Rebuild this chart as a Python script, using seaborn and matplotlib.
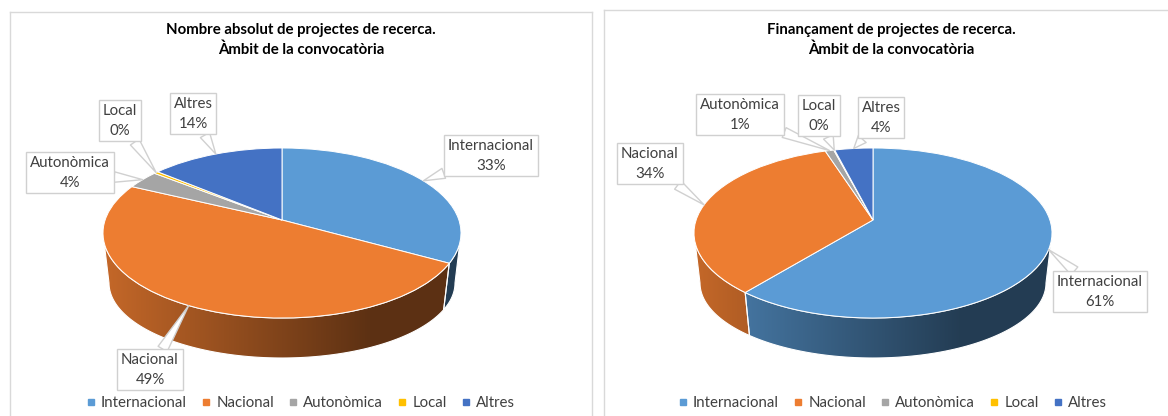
import numpy as np
import matplotlib
matplotlib.use("Agg")
import matplotlib.pyplot as plt
import seaborn as sns
from matplotlib.lines import Line2D
from matplotlib.patches import Polygon
from matplotlib.transforms import Transform

ambits = ["Internacional", "Nacional", "Autonòmica", "Local", "Altres"]
colors = ["#5B9BD5", "#ED7D31", "#A5A5A5", "#FFC000", "#4472C4"]

title_abs = "Nombre absolut de projectes de recerca.\nÀmbit de la convocatòria"
title_fin = "Finançament de projectes de recerca.\nÀmbit de la convocatòria"

# percentages (small slices estimated)
nombre_pct = [33, 49, 3.5, 0.45, 14]
finan_pct = [61, 34, 0.9, 0.1, 4]

W, H = 1168, 416
TILT = 0.153  # pie centre sits above the ellipse centre


def project(x, y):
    # perspective that keeps the unit circle but moves its centre upwards
    d = 1 + TILT * y
    return x * np.sqrt(1 - TILT**2) / d, (y + TILT) / d


class Tilted(Transform):
    input_dims = output_dims = 2

    def __init__(self, cx, cy, rx, ry):
        super().__init__()
        self.c = cx, cy, rx, ry

    def transform_non_affine(self, values):
        u, v = project(values[:, 0], values[:, 1])
        cx, cy, rx, ry = self.c
        return np.column_stack([cx + u * rx, cy - v * ry])


def edge_point(angle, c):
    # angle in degrees, clockwise from 12 o'clock
    a = np.radians(angle)
    return Tilted(*c).transform_non_affine(np.column_stack([np.sin(a), np.cos(a)]))


def draw_wall(ax, start, end, color, top, low):
    # side of the cylinder, only the front part of the ellipse can be seen
    hidden = np.degrees(np.arcsin(TILT))
    start, end = max(start, 90 + hidden), min(end, 270 - hidden)
    if end <= start:
        return
    ang = np.linspace(start, end, 120)
    pts = np.vstack([edge_point(ang, top), edge_point(ang[::-1], low)])
    shape = Polygon(pts, closed=True, fc="none", ec="white", lw=0.8, zorder=2)
    ax.add_patch(shape)
    cx, _, rx, _ = top
    xs = np.arange(cx - rx - 2, cx + rx + 3)
    shade = np.interp(xs, [cx - rx, cx + 0.5 * rx], [0.83, 0.39])
    rgb = np.array(matplotlib.colors.to_rgb(color))
    img = (shade[:, None] * rgb)[None, :, :]
    im = ax.imshow(img, extent=(xs[0], xs[-1], top[1] + top[3] + 60, top[1] - top[3]),
                   aspect="auto", zorder=1)
    im.set_clip_path(shape)


def draw_panel(ax, box, values, title, cx, label_pos, legend_x, title_x, title_y):
    x0, y0, x1, y1 = box
    top = (cx, 233, 179, 85)
    low = (cx, 283, 173, 75)

    wedges, _ = ax.pie(values, colors=colors, startangle=90, counterclock=False,
                       wedgeprops=dict(edgecolor="white", linewidth=0.7))
    for w in wedges:
        w.set_transform(Tilted(*top) + ax.transData)
        w.set_zorder(3)

    edges = np.concatenate([[0], np.cumsum(values)]) / np.sum(values) * 360
    for i, col in enumerate(colors):
        draw_wall(ax, edges[i], edges[i + 1], col, top, low)

    ax.set_aspect("auto")
    ax.set_xlim(x0, x1)
    ax.set_ylim(y1, y0)
    ax.set_frame_on(True)
    for s in ax.spines.values():
        s.set_color("#D9D9D9")
        s.set_linewidth(1)

    ax.text(title_x, title_y, title, ha="center", va="center", fontsize=10.8,
            fontweight="bold", color="black", linespacing=1.5)

    for i, name in enumerate(ambits):
        tip = edge_point((edges[i] + edges[i + 1]) / 2, top)[0]
        ax.annotate(f"{name}\n{values[i]:.0f}%", xy=tip, xytext=label_pos[i],
                    ha="center", va="center", fontsize=10.8, color="#404040",
                    linespacing=1.5, zorder=6, annotation_clip=False,
                    bbox=dict(boxstyle="square,pad=0.25", fc="white", ec="#D0D0D0", lw=1),
                    arrowprops=dict(arrowstyle="wedge,tail_width=0.7", fc="white",
                                    ec="#D0D0D0", lw=1, shrinkA=0, shrinkB=0))

    handles = [Line2D([], [], ls="", marker="s", ms=5, color=c) for c in colors]
    ax.legend(handles, ambits, ncol=5, frameon=False, fontsize=10.8, labelcolor="#404040",
              loc="center", bbox_to_anchor=(legend_x, 403), bbox_transform=ax.transData,
              handlelength=0.5, handletextpad=0.45, columnspacing=1.0, borderpad=0)


sns.set_theme(style="white")
plt.rcParams["font.family"] = ["Lato", "DejaVu Sans"]

fig = plt.figure(figsize=(W / 100, H / 100), dpi=100)


def panel_axes(box):
    x0, y0, x1, y1 = box
    return fig.add_axes([x0 / W, (H - y1) / H, (x1 - x0) / W, (y1 - y0) / H])


box_l = (10, 12, 592, 425)
box_r = (604, 10, 1175, 425)

pos_l = [(491, 156), (150, 370), (70, 173), (120, 121), (193, 114)]
pos_r = [(1100, 292), (650, 164), (740, 115), (819, 116), (881, 118)]

draw_panel(panel_axes(box_l), box_l, nombre_pct, title_abs, 282, pos_l, 301, 301, 40)
draw_panel(panel_axes(box_r), box_r, finan_pct, title_fin, 873, pos_r, 893, 891, 40)

fig.savefig("out.png", dpi=100)
